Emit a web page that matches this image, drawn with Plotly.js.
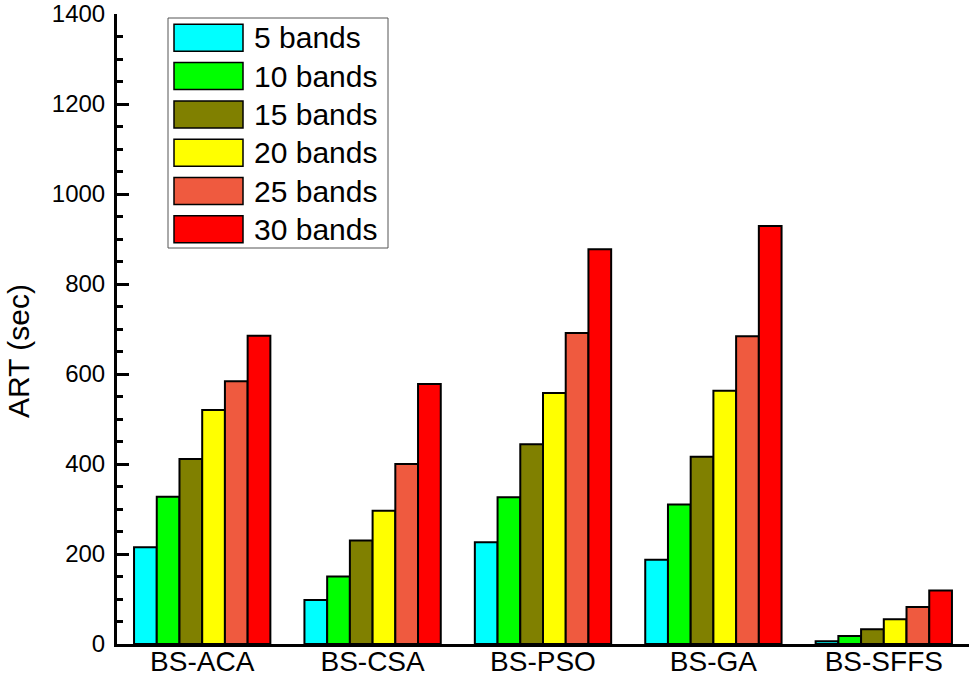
<!DOCTYPE html>
<html>
<head>
<meta charset="utf-8">
<script src="https://cdn.plot.ly/plotly-3.0.1.min.js"></script>
<style>
  body { margin: 0; background: #fff; }
  #myPlot { width: 975px; height: 677px; }
</style>
</head>
<body>
<div id="myPlot"></div>
<script>
var methods = ['BS-ACA', 'BS-CSA', 'BS-PSO', 'BS-GA', 'BS-SFFS'];
var names = ['5 bands', '10 bands', '15 bands', '20 bands', '25 bands', '30 bands'];
var colors = ['#00FFFF', '#00FF00', '#808000', '#FFFF00', '#EF5A3F', '#FF0000'];

var bands5 = [215, 98, 226, 187, 6];
var bands10 = [327, 150, 326, 310, 18];
var bands15 = [411, 230, 444, 416, 33];
var bands20 = [520, 296, 558, 563, 55];
var bands25 = [584, 400, 691, 684, 82];
var bands30 = [685, 578, 877, 929, 119];

var results = [bands5, bands10, bands15, bands20, bands25, bands30];

var traces = [];
for (var i = 0; i < results.length; i++) {
  traces.push({
    x: methods,
    y: results[i],
    name: names[i],
    type: 'bar',
    showlegend: false,
    marker: {color: colors[i], line: {color: '#000', width: 2}}
  });
}

// legend drawn as a framed box in the upper left, like the original
var shapes = [{
  type: 'rect', xref: 'paper', yref: 'paper',
  xsizemode: 'pixel', ysizemode: 'pixel', xanchor: 0, yanchor: 1,
  x0: 51, x1: 271, y0: -4, y1: -234,
  line: {color: '#555', width: 1}, fillcolor: 'rgba(0,0,0,0)'
}];
// y title placed a bit below the middle, as in the original
var annotations = [{
  text: 'ART (sec)', xref: 'paper', yref: 'paper', x: 0, y: 0.465,
  xanchor: 'center', yanchor: 'middle', xshift: -99, textangle: -90,
  showarrow: false, font: {size: 30, color: '#000'}
}];
for (var j = 0; j < names.length; j++) {
  var rowTop = 10.3 + j * 38.3;
  shapes.push({
    type: 'rect', xref: 'paper', yref: 'paper',
    xsizemode: 'pixel', ysizemode: 'pixel', xanchor: 0, yanchor: 1,
    x0: 57, x1: 126, y0: -rowTop, y1: -(rowTop + 27),
    line: {color: '#000', width: 1.5}, fillcolor: colors[j]
  });
  annotations.push({
    text: names[j], xref: 'paper', yref: 'paper', x: 0, y: 1,
    xanchor: 'left', yanchor: 'middle', xshift: 135, yshift: -(rowTop + 13.5),
    showarrow: false, font: {size: 30, color: '#000'}
  });
}

var layout = {
  width: 975,
  height: 677,
  margin: {l: 117, r: 6, t: 14, b: 33},
  font: {family: 'Arial, Liberation Sans, sans-serif', color: '#000'},
  paper_bgcolor: '#fff',
  plot_bgcolor: '#fff',
  barmode: 'group',
  bargap: 0.2,
  bargroupgap: 0,
  xaxis: {
    range: [-0.5, 4.5],
    showline: true, linewidth: 3, linecolor: '#000',
    ticks: '', showgrid: false, zeroline: false,
    tickfont: {size: 28},
    ticklabelstandoff: -10
  },
  yaxis: {
    range: [0, 1400],
    dtick: 200,
    showline: true, linewidth: 3, linecolor: '#000',
    ticks: 'inside', ticklen: 12, tickwidth: 2.5, tickcolor: '#000',
    minor: {ticks: 'inside', ticklen: 6, dtick: 50, tickwidth: 2.5, tickcolor: '#000'},
    showgrid: false, zeroline: false,
    tickfont: {size: 24},
    ticklabeloverflow: 'allow',
    ticklabelstandoff: 4
  },
  shapes: shapes,
  annotations: annotations
};

Plotly.newPlot('myPlot', traces, layout, {displayModeBar: false});
</script>
</body>
</html>
